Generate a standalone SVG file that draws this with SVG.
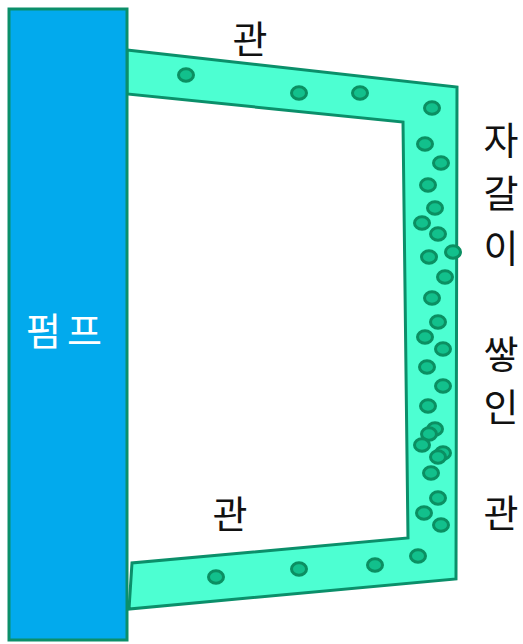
<svg xmlns="http://www.w3.org/2000/svg" width="523" height="644" viewBox="0 0 523 644">
  <style>
    .pump { fill: #02aaed; stroke: #0b8f6a; stroke-width: 3; }
    .pipe { fill: #4dffd2; stroke: #0b8f6a; stroke-width: 3; stroke-linejoin: miter; }
    .stone { fill: #12c08c; stroke: #0b8f62; stroke-width: 3; }
    .label { font-family: "Noto Sans CJK KR", "Noto Sans", sans-serif; font-size: 38px; fill: #111; text-anchor: middle; dominant-baseline: central; }
    .pump-label { fill: #ffffff; }
  </style>
  <defs>
    <ellipse id="stone" class="stone" cx="0" cy="0" rx="7.5" ry="6.3"/>
  </defs>

  <!-- Pipe loop leaving the pump at top and returning at bottom -->
  <g id="pipe">
    <polygon class="pipe" points="127,50 457,87 456,579 129,609 132,563 408,538 403,122 127,94"/>
  </g>

  <!-- Gravel deposited inside the pipe -->
  <g id="gravel">
    <use href="#stone" x="186" y="75"/>
    <use href="#stone" x="299" y="93"/>
    <use href="#stone" x="360" y="93"/>
    <use href="#stone" x="432" y="108"/>
    <use href="#stone" x="425" y="144"/>
    <use href="#stone" x="441" y="163"/>
    <use href="#stone" x="428" y="185"/>
    <use href="#stone" x="435" y="208"/>
    <use href="#stone" x="422" y="223"/>
    <use href="#stone" x="438" y="234"/>
    <use href="#stone" x="429" y="257"/>
    <use href="#stone" x="453" y="252"/>
    <use href="#stone" x="445" y="277"/>
    <use href="#stone" x="432" y="298"/>
    <use href="#stone" x="438" y="322"/>
    <use href="#stone" x="425" y="337"/>
    <use href="#stone" x="443" y="349"/>
    <use href="#stone" x="427" y="367"/>
    <use href="#stone" x="443" y="386"/>
    <use href="#stone" x="428" y="406"/>
    <use href="#stone" x="435" y="429"/>
    <use href="#stone" x="429" y="434"/>
    <use href="#stone" x="422" y="445"/>
    <use href="#stone" x="443" y="453"/>
    <use href="#stone" x="438" y="457"/>
    <use href="#stone" x="431" y="473"/>
    <use href="#stone" x="438" y="498"/>
    <use href="#stone" x="424" y="513"/>
    <use href="#stone" x="441" y="525"/>
    <use href="#stone" x="418" y="556"/>
    <use href="#stone" x="375" y="565"/>
    <use href="#stone" x="299" y="569"/>
    <use href="#stone" x="216" y="577"/>
  </g>

  <!-- Pump body -->
  <g id="pump">
    <rect class="pump" x="9" y="9" width="118" height="631"/>
    <text class="label pump-label" x="67" y="328" letter-spacing="6">펌프</text>
  </g>

  <!-- Labels -->
  <g id="labels">
    <text class="label" x="250" y="36">관</text>
    <text class="label" x="230" y="511">관</text>
    <text class="label" x="501" y="137">자</text>
    <text class="label" x="501" y="190">갈</text>
    <text class="label" x="501" y="245">이</text>
    <text class="label" x="501" y="351">쌓</text>
    <text class="label" x="501" y="404">인</text>
    <text class="label" x="501" y="510">관</text>
  </g>
</svg>
